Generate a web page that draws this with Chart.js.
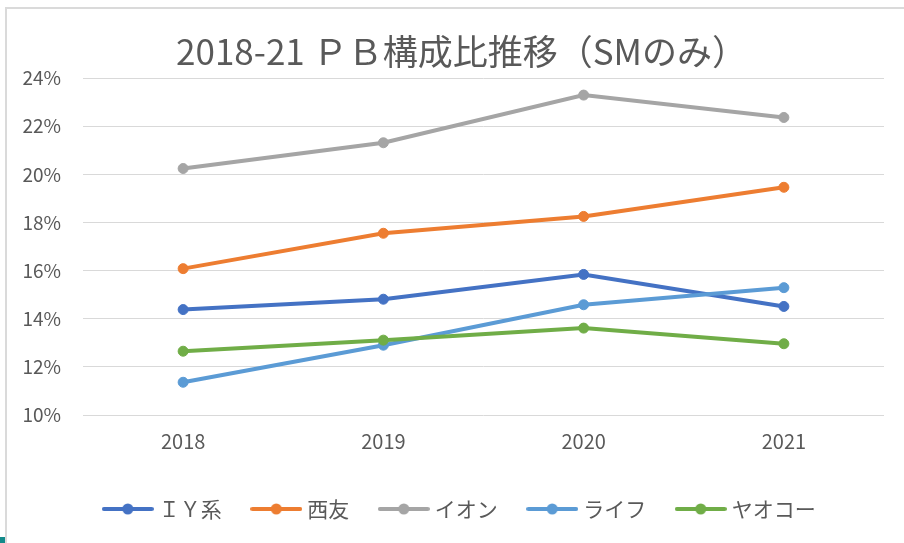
<!DOCTYPE html>
<html>
<head>
<meta charset="utf-8">
<script src="https://cdn.jsdelivr.net/npm/chart.js@4/dist/chart.umd.min.js"></script>
<style>
  html, body { margin: 0; padding: 0; background: #fff; }
  #frame {
    position: absolute; left: 5px; top: 7px; width: 899px; height: 536px;
    border-left: 2px solid #dadada; border-top: 2px solid #dadada;
  }
  #chart { display: block; }
  #corner { position: absolute; left: 0; top: 537px; width: 5px; height: 6px; background: #138a8a; }
</style>
</head>
<body>
<div id="frame"><canvas id="chart" width="897" height="534"></canvas></div>
<div id="corner"></div>
<script>
'use strict';

// data (percent)
const years = ['2018', '2019', '2020', '2021'];
const seriesNames = ['ＩＹ系', '西友', 'イオン', 'ライフ', 'ヤオコー'];
const iy = [14.38, 14.81, 15.84, 14.51];
const seiyu = [16.08, 17.55, 18.25, 19.46];
const aeon = [20.24, 21.31, 23.29, 22.36];
const life = [11.36, 12.90, 14.58, 15.29];
const yaoko = [12.65, 13.11, 13.61, 12.96];
const yTicks = [10, 12, 14, 16, 18, 20, 22, 24];

const colors = ['#4472C4', '#ED7D31', '#A5A5A5', '#5B9BD5', '#70AD47'];
const values = [iy, seiyu, aeon, life, yaoko];
const textColor = '#595959';
const jp = '"Noto Sans CJK JP", sans-serif';

// legend icon: line with a dot in the middle
function legendIcon(color) {
  const c = document.createElement('canvas');
  c.width = 52;
  c.height = 14;
  const g = c.getContext('2d');
  g.strokeStyle = color;
  g.lineWidth = 4;
  g.lineCap = 'round';
  g.beginPath();
  g.moveTo(2, 7);
  g.lineTo(50, 7);
  g.stroke();
  g.fillStyle = color;
  g.beginPath();
  g.arc(26, 7, 5.5, 0, Math.PI * 2);
  g.fill();
  return c;
}
const icons = colors.map(legendIcon);

// title and legend sit a bit right of centre in the original
const nudge = {
  id: 'nudge',
  afterLayout(chart) {
    chart.legend.left += 16;
    chart.legend.right += 16;
    chart.titleBlock.left += 16;
    chart.titleBlock.right += 16;
  }
};

const datasets = seriesNames.map((name, i) => ({
  label: name,
  data: values[i],
  borderColor: colors[i],
  backgroundColor: colors[i],
  borderWidth: 4,
  pointRadius: 5,
  pointBorderWidth: 1,
  pointBackgroundColor: colors[i],
  pointBorderColor: colors[i],
  tension: 0,
  order: seriesNames.length - i
}));

new Chart(document.getElementById('chart'), {
  type: 'line',
  data: { labels: years, datasets: datasets },
  plugins: [nudge],
  options: {
    responsive: false,
    animation: false,
    devicePixelRatio: 1,
    layout: { padding: { left: 0, right: 20, top: 0, bottom: 13.5 } },
    scales: {
      x: {
        offset: true,
        grid: { display: false, drawTicks: false },
        border: { display: false },
        ticks: { color: textColor, font: { family: jp, size: 20 }, padding: 14 },
        afterFit: (scale) => { scale.height = 49.5; }
      },
      y: {
        min: 10,
        max: 24,
        afterBuildTicks: (scale) => { scale.ticks = yTicks.map(v => ({ value: v })); },
        grid: { color: '#d9d9d9', lineWidth: 1, drawTicks: false },
        border: { display: false },
        ticks: {
          color: textColor,
          font: { family: jp, size: 19 },
          padding: 22,
          callback: (v) => v + '%'
        },
        afterFit: (scale) => { scale.width = 76; }
      }
    },
    plugins: {
      title: {
        display: true,
        text: '2018-21 ＰＢ構成比推移（SMのみ）',
        color: textColor,
        font: { family: jp, size: 35, weight: 'normal' },
        padding: { top: 22, bottom: 5 }
      },
      legend: {
        position: 'bottom',
        labels: {
          color: textColor,
          font: { family: jp, size: 21 },
          usePointStyle: true,
          pointStyleWidth: 41,
          padding: 34,
          generateLabels: (chart) => {
            const items = Chart.defaults.plugins.legend.labels.generateLabels(chart);
            items.sort((a, b) => a.datasetIndex - b.datasetIndex);
            items.forEach(it => { it.pointStyle = icons[it.datasetIndex]; });
            return items;
          }
        }
      },
      tooltip: { enabled: false }
    }
  }
});
</script>
</body>
</html>
